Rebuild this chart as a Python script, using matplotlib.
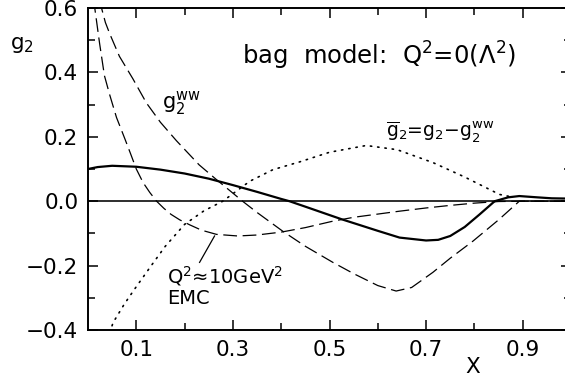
import matplotlib
matplotlib.use("Agg")
import matplotlib.pyplot as plt
from matplotlib.ticker import FixedLocator, FixedFormatter, NullFormatter

plt.rcParams['font.family'] = ['DejaVu Sans']
plt.rcParams['mathtext.fontset'] = 'dejavusans'
plt.rcParams['mathtext.default'] = 'regular'

# bag model g2 (solid)
x_bag = [0.0, 0.02, 0.05, 0.1, 0.15, 0.2, 0.25, 0.3, 0.35, 0.4, 0.417, 0.45, 0.5, 0.527,
         0.55, 0.6, 0.645, 0.7, 0.725, 0.75, 0.78, 0.81, 0.842, 0.87, 0.893, 0.93, 0.96, 1.0]
y_bag = [0.100, 0.106, 0.110, 0.107, 0.098, 0.086, 0.070, 0.050, 0.029, 0.007, 0.0, -0.017,
         -0.043, -0.057, -0.068, -0.092, -0.113, -0.122, -0.120, -0.108, -0.080, -0.042, 0.0,
         0.012, 0.016, 0.012, 0.009, 0.008]

# EMC Q^2 ~ 10 GeV^2 (dashed)
x_emc = [0.010, 0.014, 0.024, 0.034, 0.045, 0.059, 0.076, 0.088, 0.100, 0.114, 0.128, 0.142,
         0.157, 0.172, 0.190, 0.210, 0.235, 0.266, 0.310, 0.350, 0.400, 0.450, 0.507, 0.550,
         0.600, 0.645, 0.700, 0.750, 0.800, 0.850, 0.900, 1.0]
y_emc = [0.68, 0.60, 0.49, 0.39, 0.33, 0.26, 0.195, 0.148, 0.100, 0.058, 0.027, 0.0,
         -0.022, -0.041, -0.058, -0.073, -0.090, -0.103, -0.108, -0.105, -0.096, -0.082,
         -0.062, -0.050, -0.040, -0.031, -0.021, -0.013, -0.006, -0.001, 0.0, 0.0]

# g2^WW (dashed)
x_ww = [0.020, 0.028, 0.036, 0.045, 0.065, 0.093, 0.121, 0.150, 0.183, 0.230, 0.266,
        0.300, 0.320, 0.350, 0.403, 0.450, 0.507, 0.550, 0.600, 0.638, 0.670, 0.714, 0.750,
        0.797, 0.850, 0.893, 0.950, 1.0]
y_ww = [0.70, 0.60, 0.555, 0.52, 0.45, 0.38, 0.305, 0.245, 0.188, 0.113, 0.067,
        0.025, 0.0, -0.035, -0.093, -0.140, -0.190, -0.225, -0.262, -0.279, -0.268, -0.221,
        -0.177, -0.124, -0.058, 0.0, 0.0, 0.0]

# g2bar = g2 - g2^WW (dotted)
x_bar = [0.040, 0.052, 0.075, 0.096, 0.131, 0.160, 0.200, 0.240, 0.279, 0.335, 0.383,
         0.438, 0.500, 0.576, 0.640, 0.714, 0.780, 0.852, 0.875]
y_bar = [-0.43, -0.377, -0.320, -0.274, -0.200, -0.140, -0.072, -0.030, 0.0, 0.062, 0.098,
         0.122, 0.152, 0.173, 0.160, 0.120, 0.075, 0.021, 0.014]

x_major = [0.1, 0.3, 0.5, 0.7, 0.9]
x_major_labels = ['0.1', '0.3', '0.5', '0.7', '0.9']
x_minor = [0.2, 0.4, 0.6, 0.8]
y_major = [-0.4, -0.2, 0.0, 0.2, 0.4, 0.6]
y_major_labels = ['\u22120.4', '\u22120.2', '0.0', '0.2', '0.4', '0.6']
y_minor = [-0.3, -0.1, 0.1, 0.3, 0.5]

fig = plt.figure(figsize=(5.65, 3.83), dpi=100)
ax = fig.add_axes([88/565, 53/383, 483/565, 322/383])
ax.set_xlim(0.0, 1.0)
ax.set_ylim(-0.4, 0.6)

dash = (0, (11, 4.5))
ax.axhline(0.0, color='black', lw=1.15, zorder=1)
ax.plot(x_bag, y_bag, color='black', lw=1.6, solid_capstyle='butt')
ax.plot(x_emc, y_emc, color='black', lw=0.9, linestyle=dash)
ax.plot(x_ww, y_ww, color='black', lw=0.9, linestyle=dash)
ax.plot(x_bar, y_bar, color='black', lw=1.2, linestyle=(0, (0.8, 3.6)), dash_capstyle='round')

# pointer for EMC label
ax.plot([0.262, 0.231], [-0.108, -0.19], color='black', lw=0.9)

ax.xaxis.set_major_locator(FixedLocator(x_major))
ax.xaxis.set_major_formatter(FixedFormatter(x_major_labels))
ax.xaxis.set_minor_locator(FixedLocator(x_minor))
ax.xaxis.set_minor_formatter(NullFormatter())
ax.yaxis.set_major_locator(FixedLocator(y_major))
ax.yaxis.set_major_formatter(FixedFormatter(y_major_labels))
ax.yaxis.set_minor_locator(FixedLocator(y_minor))
ax.yaxis.set_minor_formatter(NullFormatter())

ax.tick_params(which='both', direction='in', top=True, right=True, width=1.1, labelsize=15.5)
ax.tick_params(which='major', length=7.2)
ax.tick_params(which='minor', length=5.0)
ax.tick_params(axis='x', pad=7)
ax.tick_params(axis='y', pad=7)
for s in ax.spines.values():
    s.set_linewidth(1.4)

ax.text(0.318, 0.452, 'bag  model:  Q$^2$=0($\\Lambda^2$)', fontsize=17.5, va='center', ha='left')
ax.text(0.154, 0.305, '$g_2^{ww}$', fontsize=15, va='center', ha='left')
ax.text(0.618, 0.215, '$\\overline{g}_2$=$g_2$\u2212$g_2^{ww}$', fontsize=13.5, va='center', ha='left')
ax.text(0.163, -0.232, 'Q$^2$\u224810GeV$^2$', fontsize=14, va='center', ha='left')
ax.text(0.163, -0.302, 'EMC', fontsize=14, va='center', ha='left')

fig.text(10/565, 1 - 45/383, '$g_2$', fontsize=15.5, va='center', ha='left')
fig.text(473/565, 1 - 367/383, 'X', fontsize=15.5, va='center', ha='center')

fig.savefig('out.png', dpi=100)
